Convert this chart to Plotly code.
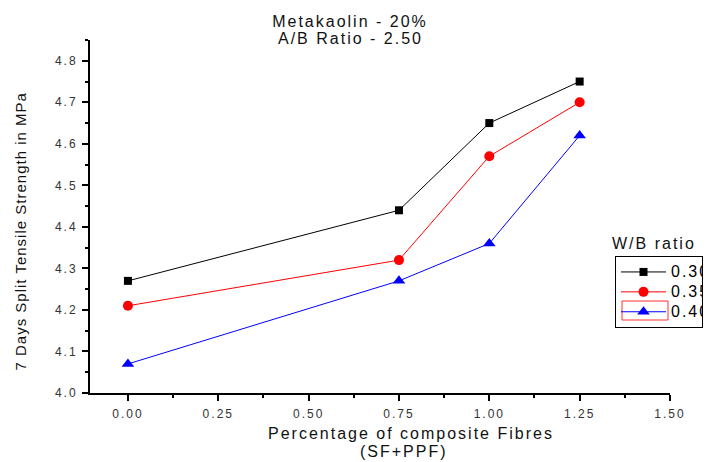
import plotly.graph_objects as go

# ---- data ----
fibre_pct = [0.00, 0.75, 1.00, 1.25]
wb_labels = ["0.30", "0.35", "0.40"]
strength_030 = [4.27, 4.44, 4.65, 4.75]
strength_035 = [4.21, 4.32, 4.57, 4.70]
strength_040 = [4.07, 4.27, 4.36, 4.62]

series = [strength_030, strength_035, strength_040]
colors = ["#000000", "#ff0000", "#0000ff"]
symbols = ["square", "circle", "triangle-up"]
sizes = [8, 10, 11]

FONT = "Liberation Sans, Arial, sans-serif"

fig = go.Figure()
for lab, ys, c, s, sz in zip(wb_labels, series, colors, symbols, sizes):
    fig.add_trace(go.Scatter(
        x=fibre_pct, y=ys, name=lab, mode="lines+markers",
        line=dict(color=c, width=1),
        marker=dict(symbol=s, size=sz, color=c, line=dict(width=0)),
    ))

# plot area: x 90..670, y 40..393 (px)
L, R, T, B = 90, 38, 40, 69
PW, PH = 708 - L - R, 462 - T - B


def px(xp):
    return (xp - L) / PW


def py(yp):
    return (462 - B - yp) / PH


fig.update_layout(
    width=708, height=462,
    margin=dict(l=L, r=R, t=T, b=B, autoexpand=False),
    paper_bgcolor="white", plot_bgcolor="white",
    font=dict(family=FONT, size=16, color="#000000"),
    title=dict(text="Metakaolin - 20%",
               x=350 / 708, xanchor="center", xref="container",
               y=1 - 21 / 462, yanchor="middle", yref="container",
               font=dict(family=FONT, size=16, color="#111111")),
    showlegend=True,
    legend=dict(x=px(615), y=py(256), xanchor="left", yanchor="top",
                bordercolor="#000000", borderwidth=1, bgcolor="rgba(0,0,0,0)",
                font=dict(family=FONT, size=13, color="#000000"),
                itemwidth=45, entrywidth=140, entrywidthmode="pixels",
                tracegroupgap=0),
    xaxis=dict(range=[-0.105, 1.5], tick0=0, dtick=0.25, tickformat=".2f",
               showgrid=False, zeroline=False, showline=True, linecolor="#000000",
               linewidth=2, ticks="outside", ticklen=6, tickwidth=2, tickcolor="#000000",
               ticklabelstandoff=3,
               tickfont=dict(family=FONT, size=12, color="#333333"),
               minor=dict(dtick=0.125, tick0=0, ticks="outside", ticklen=3,
                          tickwidth=2, tickcolor="#000000", showgrid=False)),
    yaxis=dict(range=[4.0, 4.85], tick0=4.0, dtick=0.1, tickformat=".1f",
               showgrid=False, zeroline=False, showline=True, linecolor="#000000",
               linewidth=2, ticks="outside", ticklen=6, tickwidth=2, tickcolor="#000000",
               ticklabelstandoff=2,
               tickfont=dict(family=FONT, size=12, color="#333333"),
               minor=dict(dtick=0.05, tick0=4.0, ticks="outside", ticklen=3,
                          tickwidth=2, tickcolor="#000000", showgrid=False)),
    annotations=[
        dict(text="7 Days Split Tensile Strength in MPa", textangle=-90,
             x=px(20), y=py(231.5), xref="paper", yref="paper",
             xanchor="center", yanchor="middle", showarrow=False,
             font=dict(family=FONT, size=15, color="#111111")),
        dict(text="Percentage of composite Fibres",
             x=px(411), y=py(433), xref="paper", yref="paper",
             xanchor="center", yanchor="middle", showarrow=False,
             font=dict(family=FONT, size=16, color="#111111")),
        dict(text="(SF+PPF)",
             x=px(404), y=py(451), xref="paper", yref="paper",
             xanchor="center", yanchor="middle", showarrow=False,
             font=dict(family=FONT, size=16, color="#111111")),
        dict(text="W/B ratio",
             x=px(619), y=py(243), xref="paper", yref="paper",
             xanchor="left", yanchor="middle", showarrow=False,
             font=dict(family=FONT, size=16, color="#111111")),
        dict(text="A/B Ratio - 2.50",
             x=px(350), y=py(38.5), xref="paper", yref="paper",
             xanchor="center", yanchor="middle", showarrow=False,
             font=dict(family=FONT, size=16, color="#111111")),
    ],
    shapes=[
        dict(type="rect", xref="paper", yref="paper",
             x0=px(622), x1=px(668), y0=py(320), y1=py(301),
             line=dict(color="#ff3030", width=1)),
    ],
)

css_js = """
var s = document.createElement('style');
s.textContent = 'html,body{margin:0;padding:0}'
 + '.gtitle{letter-spacing:2px}'
 + '.xtick text,.ytick text{letter-spacing:2px}'
 + '.legendtext{letter-spacing:2px;font-size:16px !important}'
 + '.annotation .annotation-text{letter-spacing:2px}'
 + '.annotation[data-index="0"] .annotation-text{letter-spacing:1px}';
document.head.appendChild(s);
"""

fig.write_html("out.html", post_script=css_js, config={"displayModeBar": False})
